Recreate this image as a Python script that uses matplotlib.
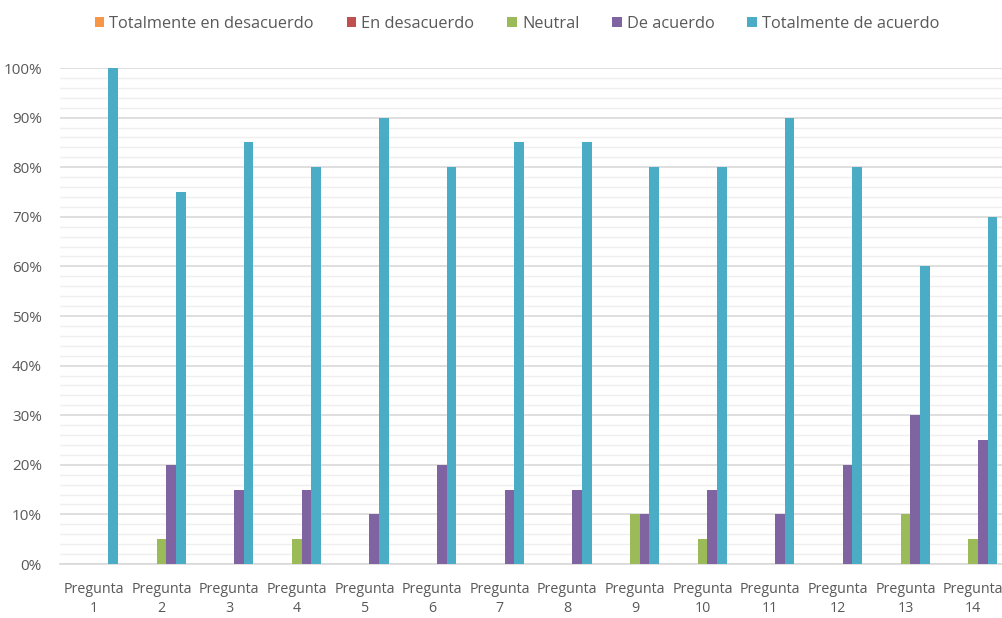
import matplotlib
matplotlib.use("Agg")
import matplotlib.pyplot as plt
import numpy as np
from matplotlib.ticker import MultipleLocator, FuncFormatter

categories = [f"Pregunta\n{i}" for i in range(1, 15)]
series_names = ["Totalmente en desacuerdo", "En desacuerdo", "Neutral", "De acuerdo", "Totalmente de acuerdo"]
tot_desacuerdo = [0] * 14
en_desacuerdo = [0] * 14
neutral = [0, 5, 0, 5, 0, 0, 0, 0, 10, 5, 0, 0, 10, 5]
de_acuerdo = [0, 20, 15, 15, 10, 20, 15, 15, 10, 15, 10, 20, 30, 25]
tot_acuerdo = [100, 75, 85, 80, 90, 80, 85, 85, 80, 80, 90, 80, 60, 70]
colors = ["#F79646", "#C0504D", "#9BBB59", "#8064A2", "#4BACC6"]

plt.rcParams['font.family'] = ['Open Sans', 'DejaVu Sans']

fig = plt.figure(figsize=(10.03, 6.18), dpi=100)
W, H = 1003, 618
x0, x1 = 60, 1007
y0, y1 = 564, 68
ax = fig.add_axes([x0 / W, 1 - y0 / H, (x1 - x0) / W, (y0 - y1) / H])

x = np.arange(len(categories))
w = 0.143
data = [tot_desacuerdo, en_desacuerdo, neutral, de_acuerdo, tot_acuerdo]
for i, (vals, c, name) in enumerate(zip(data, colors, series_names)):
    ax.bar(x + (i - 2) * w, vals, width=w, color=c, label=name, zorder=3)

ax.set_xlim(-0.5, len(categories) - 0.5)
ax.set_ylim(0, 100)
ax.yaxis.set_major_locator(MultipleLocator(10))
ax.yaxis.set_minor_locator(MultipleLocator(2))
ax.yaxis.set_major_formatter(FuncFormatter(lambda v, p: f"{int(v)}%"))
ax.grid(axis='y', which='major', color='#D9D9D9', linewidth=1.2, zorder=0)
ax.grid(axis='y', which='minor', color='#EFEFEF', linewidth=1.0, zorder=0)
for s in ['top', 'right', 'left']:
    ax.spines[s].set_visible(False)
ax.spines['bottom'].set_color('#D9D9D9')
ax.spines['bottom'].set_linewidth(1.2)
ax.tick_params(axis='both', which='both', length=0, colors='#595959')
ax.tick_params(axis='y', pad=13, labelsize=11)
ax.tick_params(axis='x', pad=13, labelsize=10.3)
ax.set_xticks(x)
ax.set_xticklabels(categories, linespacing=1.35)

leg = fig.legend(loc='center', bbox_to_anchor=(517 / W, 1 - 24 / H), ncol=5, frameon=False,
                 fontsize=11.8, handlelength=0.6, handleheight=0.6, handletextpad=0.3,
                 columnspacing=2.0, labelcolor='#595959')

fig.savefig("out.png", dpi=100)
